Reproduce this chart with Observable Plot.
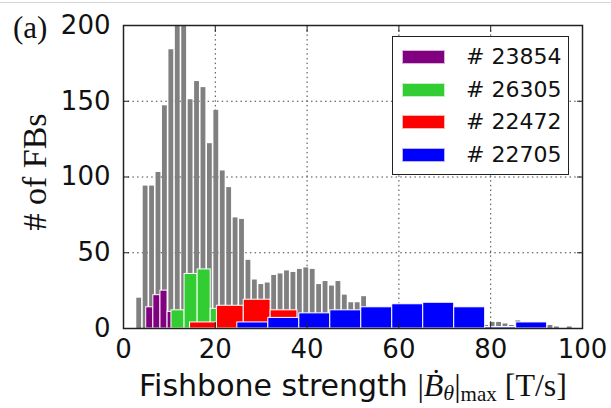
<!DOCTYPE html>
<html>
<head>
<meta charset="utf-8">
<script src="https://cdn.jsdelivr.net/npm/d3@7"></script>
<script src="https://cdn.jsdelivr.net/npm/@observablehq/plot@0.6"></script>
<style>
  html, body { margin: 0; padding: 0; background: white; }
  #wrap { position: relative; width: 611px; height: 408px; overflow: hidden; background: white; }
  #topline { position: absolute; left: 0; top: 2px; width: 611px; height: 1px; background: #d8d8d8; z-index: 2; }
  #legend { position: absolute; left: 392px; top: 36px; width: 175px; height: 137px;
            border: 1.5px solid #222; background: white; font-family: "DejaVu Sans"; font-size: 22px; }
  .row { position: absolute; left: 0; height: 30px; width: 175px; }
  .sw { position: absolute; left: 9px; width: 43px; height: 14px; top: 8px; box-sizing: border-box; border: 1px solid rgba(255,255,255,0.7); }
  .lab { position: absolute; left: 73px; top: 0; line-height: 30px; color: #111; white-space: nowrap; }
</style>
</head>
<body>
<div id="wrap"><div id="topline"></div></div>
<script>
// ---- data ----
// all shots histogram (gray): bin start and width, counts per bin
const greyBinStart = 2.72;
const greyBinWidth = 1.4;
const greyCounts = [20, 94, 94, 103, 147, 184, 215, 215, 151, 163, 159, 122, 144, 104, 93, 73, 72, 45,
  32, 29, 30, 35, 36, 38, 37, 39, 40, 39, 29, 31, 28, 31, 22, 17, 17, 21,
  12, 11, 10, 11, 9, 10, 8, 9, 7, 8, 6, 7, 5, 6, 4, 5, 3, 3, 2,
  4, 4, 3, 2, 5, 2, 3, 2, 1, 2, 1, 0, 1];

const seriesNames = ["# 23854", "# 26305", "# 22472", "# 22705"];
const seriesColors = ["#800080", "#32CD32", "#FF0000", "#0000FF"];
// bin edges and counts per shot
const edges23854 = [4.95, 6.5, 8.05, 9.6, 11.15];
const counts23854 = [14, 22, 25, 11];
const edges26305 = [10.45, 13.3, 16.15, 19.0, 21.85];
const counts26305 = [12, 36, 39, 13];
const edges22472 = [14.5, 20.35, 26.2, 32.05, 37.9];
const counts22472 = [4, 15, 19, 12];
const edges22705 = [24.8, 31.55, 38.3, 45.05, 51.8, 58.55, 65.3, 72.05, 78.8, 85.55, 92.3];
const counts22705 = [4, 7, 10, 12, 14, 16, 17, 14, 1, 4];

const xTicks = [0, 20, 40, 60, 80, 100];
const yTicks = [0, 50, 100, 150, 200];
const xGrid = [20, 40, 60, 80];
const yGrid = [50, 100, 150];

// ---- build tables ----
const grey = greyCounts.map((c, i) => ({
  x1: greyBinStart + i * greyBinWidth,
  x2: greyBinStart + (i + 1) * greyBinWidth,
  y: c
}));
function toBins(edges, counts) {
  return counts.map((c, i) => ({x1: edges[i], x2: edges[i + 1], y: c}));
}
const shots = [
  toBins(edges23854, counts23854),
  toBins(edges26305, counts26305),
  toBins(edges22472, counts22472),
  toBins(edges22705, counts22705)
];

const tickFont = "DejaVu Sans";
const chart = Plot.plot({
  width: 611,
  height: 408,
  marginLeft: 123,
  marginRight: 29,
  marginTop: 25,
  marginBottom: 80,
  style: {background: "white", fontFamily: tickFont, fontSize: "26px", color: "#111"},
  x: {domain: [0, 100], label: null},
  y: {domain: [0, 200], label: null},
  marks: [
    Plot.gridX(xGrid, {stroke: "#444", strokeOpacity: 1, strokeDasharray: "1.5,3.2", strokeWidth: 1}),
    Plot.gridY(yGrid, {stroke: "#444", strokeOpacity: 1, strokeDasharray: "1.5,3.2", strokeWidth: 1}),
    Plot.rectY(grey, {x1: "x1", x2: "x2", y: "y", fill: "#808080", insetLeft: 0.8, insetRight: 0.8, clip: true}),
    ...shots.map((d, k) => Plot.rectY(d, {x1: "x1", x2: "x2", y: "y", fill: seriesColors[k], stroke: "white", strokeWidth: 1, clip: true})),
    Plot.frame({stroke: "#222", strokeWidth: 1.5}),
    Plot.axisX(xTicks, {anchor: "bottom", tickSize: -6, tickPadding: 17, stroke: "#222", fontSize: 26, fill: "#111"}),
    Plot.axisX(xTicks, {anchor: "top", tickSize: -6, tickFormat: () => "", stroke: "#222"}),
    Plot.axisY(yTicks, {anchor: "left", tickSize: -6, tickPadding: 19, stroke: "#222", fontSize: 26, fill: "#111"}),
    Plot.axisY(yTicks, {anchor: "right", tickSize: -6, tickFormat: () => "", stroke: "#222"})
  ]
});
const wrap = document.getElementById("wrap");
wrap.appendChild(chart);

// labels
const svg = d3.select(chart);
svg.append("text")
  .attr("x", 13).attr("y", 38)
  .attr("text-anchor", "start")
  .attr("font-family", "Liberation Serif").attr("font-size", 31).attr("fill", "#111")
  .text("(a)");
svg.append("text")
  .attr("transform", "translate(46,172) rotate(-90)")
  .attr("text-anchor", "middle")
  .attr("font-family", "Liberation Serif").attr("font-size", 34).attr("fill", "#111")
  .text("# of FBs");
const xl = svg.append("text")
  .attr("x", 353).attr("y", 396)
  .attr("text-anchor", "middle")
  .attr("font-size", 30).attr("fill", "#111");
xl.append("tspan").attr("font-family", "DejaVu Sans").text("Fishbone strength ");
xl.append("tspan").attr("font-family", "Liberation Serif").attr("font-size", 32).text("|");
xl.append("tspan").attr("font-family", "Liberation Serif").attr("font-style", "italic").attr("font-size", 32).text("Ḃ");
xl.append("tspan").attr("font-family", "Liberation Serif").attr("font-style", "italic").attr("font-size", 22).attr("dy", 4).text("θ");
xl.append("tspan").attr("font-family", "Liberation Serif").attr("font-size", 32).attr("dy", -4).text("|");
xl.append("tspan").attr("font-family", "Liberation Serif").attr("font-size", 21).attr("dy", 5).text("max");
xl.append("tspan").attr("font-family", "Liberation Serif").attr("font-size", 32).attr("dy", -5).text(" [T/s]");

// legend
const legend = document.createElement("div");
legend.id = "legend";
seriesNames.forEach((name, k) => {
  const row = document.createElement("div");
  row.className = "row";
  row.style.top = (5 + k * 32.7) + "px";
  const sw = document.createElement("div");
  sw.className = "sw";
  sw.style.background = seriesColors[k];
  const lab = document.createElement("div");
  lab.className = "lab";
  lab.textContent = name;
  row.appendChild(sw); row.appendChild(lab);
  legend.appendChild(row);
});
wrap.appendChild(legend);
</script>
</body>
</html>
